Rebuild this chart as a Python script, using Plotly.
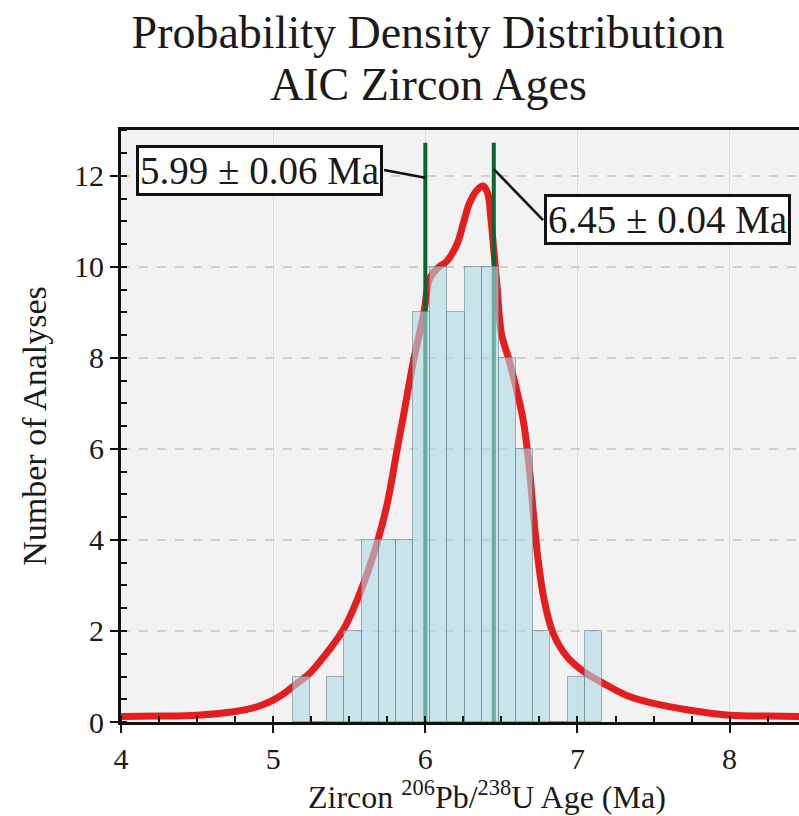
import plotly.graph_objects as go

# ---------------- data ----------------
bin_start = 5.13
bin_width = 0.1128
counts = [1, 0, 1, 2, 4, 4, 4, 9, 10, 9, 10, 10, 8, 6, 2, 0, 1, 2]

pdf_age = [4.0, 4.25, 4.5, 4.75, 4.9, 5.0, 5.06, 5.13, 5.24, 5.35, 5.46, 5.57,
           5.68, 5.75, 5.81, 5.86, 5.92, 5.99, 6.03, 6.09, 6.14, 6.21, 6.25,
           6.29, 6.34, 6.38, 6.41, 6.43, 6.45, 6.47, 6.50, 6.55, 6.60, 6.645,
           6.68, 6.71, 6.74, 6.78, 6.84, 6.93, 7.04, 7.17, 7.32, 7.50, 7.74,
           8.0, 8.25, 8.46]
pdf_val = [0.12, 0.13, 0.15, 0.23, 0.34, 0.48, 0.6, 0.78, 1.07, 1.51, 2.02, 2.83,
           3.9, 4.8, 5.9, 6.8, 7.9, 8.98, 9.75, 10.0, 10.12, 10.52, 10.96,
           11.4, 11.69, 11.78, 11.62, 11.1, 10.37, 9.64, 8.54, 7.96, 7.3, 6.6,
           5.7, 4.6, 3.6, 2.7, 1.95, 1.44, 1.11, 0.85, 0.59, 0.41, 0.26,
           0.15, 0.13, 0.12]

peak_ages = [6.00, 6.45]
peak_top = 12.73
peak_labels = ["5.99 ± 0.06 Ma", "6.45 ± 0.04 Ma"]

x_ticks = [4, 5, 6, 7, 8]
y_ticks = [0, 2, 4, 6, 8, 10, 12]

SERIF = "Liberation Serif, Times New Roman, serif"
X_RANGE = [4, 8.456]
Y_RANGE = [0, 13.01]
TXT = "#1a1a1a"

bin_centers = [bin_start + bin_width * (i + 0.5) for i in range(len(counts))]

fig = go.Figure()

# probability density curve
fig.add_trace(go.Scatter(
    x=pdf_age, y=pdf_val, mode="lines",
    line=dict(color="#e41e1e", width=7, shape="spline", smoothing=1.0),
    showlegend=False, hoverinfo="skip"))

# peak age lines
for a in peak_ages:
    fig.add_trace(go.Scatter(
        x=[a, a], y=[0, peak_top], mode="lines",
        line=dict(color="#0a6630", width=4),
        showlegend=False, hoverinfo="skip"))

# histogram bars (on an overlaid axis so they sit above the curve)
fig.add_trace(go.Bar(
    x=bin_centers, y=counts, width=bin_width,
    marker=dict(color="rgba(173,216,230,0.6)",
                line=dict(color="rgba(100,120,130,0.55)", width=1)),
    xaxis="x2", yaxis="y2", showlegend=False, hoverinfo="skip"))

# annotation boxes and leader lines
box_pos = [(4.911, 12.13), (7.589, 11.05)]
leaders = [((5.729, 12.13), (peak_ages[0], 11.96)),
           ((6.774, 11.03), (peak_ages[1], 12.15))]
annotations = []
for (bx, by), lab in zip(box_pos, peak_labels):
    annotations.append(dict(
        x=bx, y=by, xref="x", yref="y", text=lab, showarrow=False,
        font=dict(family=SERIF, size=39, color=TXT),
        bgcolor="white", bordercolor="#111", borderwidth=3, borderpad=1))

annotations.append(dict(
    x=(428 - 120.8) / 678.2, y=(722 - 85) / 592, xref="paper", yref="paper",
    text="AIC Zircon Ages", showarrow=False, xanchor="center", yanchor="middle",
    font=dict(family=SERIF, size=46, color=TXT)))

annotations.append(dict(
    x=(487 - 120.8) / 678.2, y=-(795 - 722) / 592, xref="paper", yref="paper",
    text="Zircon <sup>206</sup>Pb/<sup>238</sup>U Age (Ma)", showarrow=False,
    xanchor="center", yanchor="middle",
    font=dict(family=SERIF, size=32, color=TXT)))

shapes = []
for (p0, p1) in leaders:
    shapes.append(dict(type="line", xref="x", yref="y",
                       x0=p0[0], y0=p0[1], x1=p1[0], y1=p1[1],
                       line=dict(color="#111", width=2.5)))

fig.update_layout(
    width=799, height=816,
    margin=dict(l=121, r=0, t=130, b=94),
    paper_bgcolor="white", plot_bgcolor="#f2f2f2",
    title=dict(text="Probability Density Distribution",
               x=428 / 799, xanchor="center", xref="container",
               y=1 - 32 / 816, yanchor="middle", yref="container",
               font=dict(family=SERIF, size=46, color=TXT)),
    bargap=0,
    annotations=annotations,
    shapes=shapes,
    xaxis=dict(
        range=X_RANGE, tickvals=x_ticks, ticks="outside", ticklen=8,
        tickwidth=2, tickcolor="#111",
        showline=True, linecolor="#111", linewidth=3, mirror=True,
        showgrid=True, gridcolor="#dcdcdc", gridwidth=1,
        zeroline=False,
        minor=dict(dtick=0.25, ticks="inside", ticklen=6, tickwidth=1.5,
                   tickcolor="#111", showgrid=False),
        tickfont=dict(family=SERIF, size=30, color=TXT)),
    yaxis=dict(
        range=Y_RANGE, tickvals=y_ticks, ticks="outside", ticklen=8,
        tickwidth=2, tickcolor="#111",
        showline=True, linecolor="#111", linewidth=3, mirror=False,
        showgrid=True, gridcolor="#cfcfcf", gridwidth=1.5, griddash="dash",
        zeroline=False,
        minor=dict(dtick=0.5, ticks="inside", ticklen=6, tickwidth=1.5,
                   tickcolor="#111", showgrid=False),
        tickfont=dict(family=SERIF, size=30, color=TXT),
        title=dict(text="Number of Analyses",
                   font=dict(family=SERIF, size=34, color=TXT),
                   standoff=18)),
    xaxis2=dict(range=X_RANGE, overlaying="x", visible=False, matches="x"),
    yaxis2=dict(range=Y_RANGE, overlaying="y", visible=False, matches="y"),
)

fig.write_html("out.html")
